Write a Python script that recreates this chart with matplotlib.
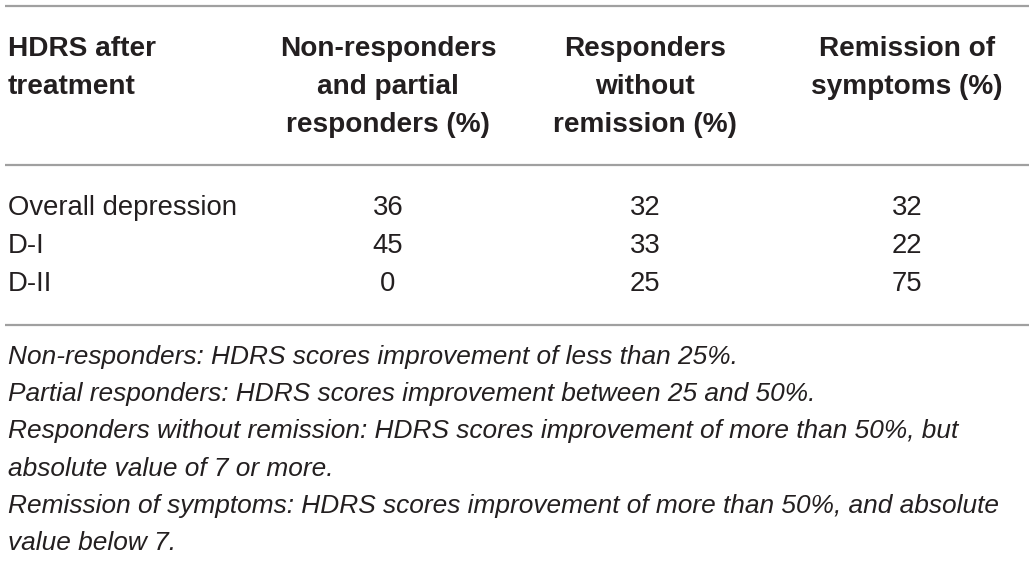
import matplotlib.pyplot as plt

# table content
header = ["HDRS after\ntreatment",
          "Non-responders\nand partial\nresponders (%)",
          "Responders\nwithout\nremission (%)",
          "Remission of\nsymptoms (%)"]
groups = ["Overall depression", "D-I", "D-II"]
non_resp = [36, 45, 0]
resp_no_rem = [32, 33, 25]
remission = [32, 22, 75]
footnotes = [
    "Non-responders: HDRS scores improvement of less than 25%.",
    "Partial responders: HDRS scores improvement between 25 and 50%.",
    "Responders without remission: HDRS scores improvement of more than 50%, but",
    "absolute value of 7 or more.",
    "Remission of symptoms: HDRS scores improvement of more than 50%, and absolute",
    "value below 7.",
]

plt.rcParams['font.family'] = ['Liberation Sans', 'DejaVu Sans']
txt = '#231f20'

fig = plt.figure(figsize=(10.36, 5.62), dpi=100)
ax = fig.add_axes([0, 0, 1, 1])
ax.set_xlim(0, 1036)
ax.set_ylim(562, 0)
ax.axis('off')

# rules
for y in [6, 165, 325]:
    ax.plot([5, 1029], [y, y], color='#a0a0a0', lw=1.6, solid_capstyle='butt')

col_x = [8, 388, 645, 907]
line_h = 38
for i, h in enumerate(header):
    for j, part in enumerate(h.split('\n')):
        ax.text(col_x[i], 49 + j * line_h, part, fontsize=20.2, fontweight='bold',
                color=txt, ha='left' if i == 0 else 'center', va='center')

for r, g in enumerate(groups):
    y = 208 + r * line_h
    ax.text(col_x[0], y, g, fontsize=19.8, color=txt, ha='left', va='center')
    ax.text(col_x[1], y, str(non_resp[r]), fontsize=19.8, color=txt, ha='center', va='center')
    ax.text(col_x[2], y, str(resp_no_rem[r]), fontsize=19.8, color=txt, ha='center', va='center')
    ax.text(col_x[3], y, str(remission[r]), fontsize=19.8, color=txt, ha='center', va='center')

for k, note in enumerate(footnotes):
    ax.text(col_x[0], 357 + k * 37.2, note, fontsize=18.9, style='italic',
            color=txt, ha='left', va='center')

fig.savefig('out.png', dpi=100)
